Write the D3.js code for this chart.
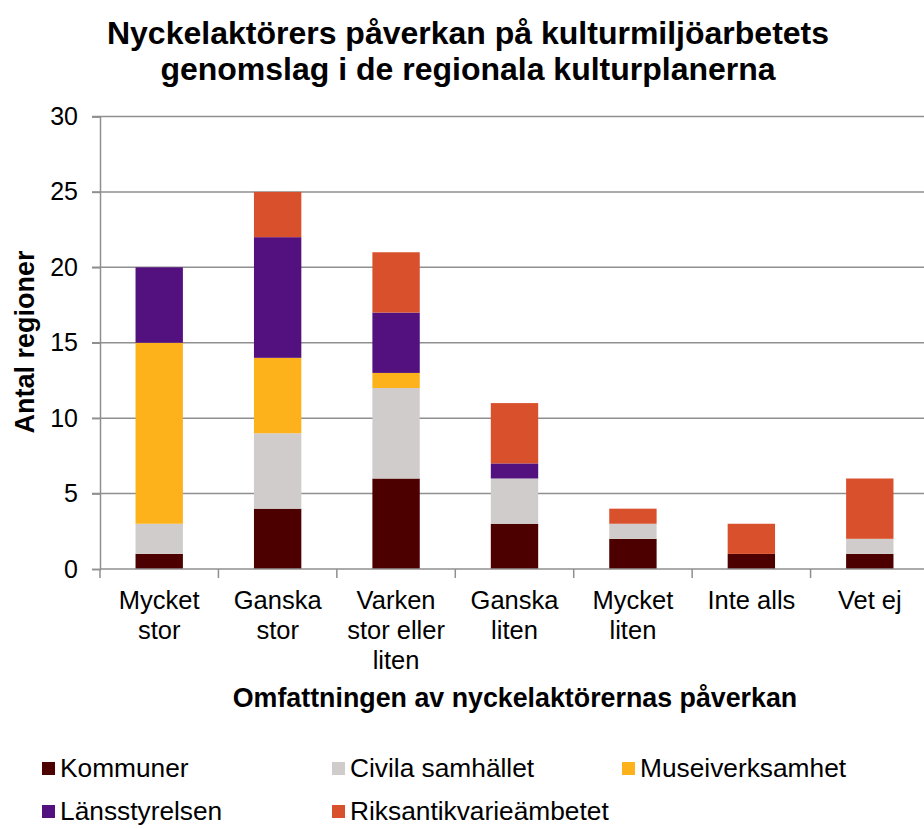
<!DOCTYPE html>
<html><head><meta charset="utf-8">
<script src="https://cdn.jsdelivr.net/npm/d3@7"></script>
<style>body{margin:0;background:#fff}svg{display:block;font-family:"Liberation Sans",Arial,sans-serif}</style>
</head><body><svg id="c" width="924" height="829"></svg>
<script>
const categories = [["Mycket","stor"],["Ganska","stor"],["Varken","stor eller","liten"],["Ganska","liten"],["Mycket","liten"],["Inte alls"],["Vet ej"]];
const seriesNames = ["Kommuner","Civila samhället","Museiverksamhet","Länsstyrelsen","Riksantikvarieämbetet"];
const colors = ["#4d0000","#d0cccb","#fdb21b","#52117f","#d9512c"];
const kommuner = [1,4,6,3,2,1,1];
const civila = [2,5,6,3,1,0,1];
const museum = [12,5,1,0,0,0,0];
const lans = [5,8,4,1,0,0,0];
const riks = [0,3,4,4,1,2,4];
const yTicks = [0,5,10,15,20,25,30];

const values = [kommuner,civila,museum,lans,riks];
const data = categories.map((c,i)=>{const o={key:i};seriesNames.forEach((s,j)=>o[s]=values[j][i]);return o;});
const stack = d3.stack().keys(seriesNames)(data);

const svg = d3.select("#c");
const L=100, R=929, T=116.5, B=569;
const x = d3.scaleBand().domain(d3.range(categories.length)).range([L,R]).paddingInner(0.6).paddingOuter(0.3);
const y = d3.scaleLinear().domain([0,30]).range([B,T]);

// gridlines
svg.append("g").selectAll("line").data(yTicks.filter(d=>d>0)).join("line")
  .attr("x1",L-8).attr("x2",R).attr("y1",d=>y(d)).attr("y2",d=>y(d))
  .attr("stroke","#8f8f8f").attr("stroke-width",1.5);

// bars
svg.append("g").selectAll("g").data(stack).join("g").attr("fill",(d,i)=>colors[i])
  .selectAll("rect").data(d=>d).join("rect")
  .attr("x",(d,i)=>x(i)).attr("width",x.bandwidth())
  .attr("y",d=>y(d[1])).attr("height",d=>y(d[0])-y(d[1]));

// y axis
const ya = svg.append("g").attr("transform",`translate(${L},0)`)
  .call(d3.axisLeft(y).tickValues(yTicks).tickSize(8).tickPadding(14));
ya.select(".domain").attr("stroke","#8f8f8f").attr("stroke-width",1.5);
ya.selectAll(".tick line").attr("stroke","#8f8f8f").attr("stroke-width",1.5);
ya.selectAll("text").attr("font-size",25).attr("fill","#000").attr("font-family","Liberation Sans, Arial, sans-serif");

// x axis
const step = x.step();
svg.append("line").attr("x1",L).attr("x2",R).attr("y1",B).attr("y2",B).attr("stroke","#8f8f8f").attr("stroke-width",1.5);
svg.append("g").selectAll("line").data(d3.range(categories.length+1)).join("line")
  .attr("x1",i=>L+i*step).attr("x2",i=>L+i*step).attr("y1",B).attr("y2",B+9)
  .attr("stroke","#8f8f8f").attr("stroke-width",1.5);
svg.append("g").selectAll("text").data(categories).join("text")
  .attr("text-anchor","middle").attr("font-size",25.5).attr("fill","#000")
  .attr("transform",(d,i)=>`translate(${x(i)+x.bandwidth()/2},609)`)
  .selectAll("tspan").data(d=>d).join("tspan").attr("x",0).attr("y",(d,j)=>j*30).text(d=>d);

// titles
svg.append("text").attr("text-anchor","middle").attr("font-weight","bold").attr("font-size",32)
  .selectAll("tspan").data(["Nyckelaktörers påverkan på kulturmiljöarbetets","genomslag i de regionala kulturplanerna"]).join("tspan")
  .attr("x",468).attr("y",(d,i)=>44+i*36).text(d=>d);
svg.append("text").attr("text-anchor","middle").attr("font-weight","bold").attr("font-size",27)
  .attr("transform","translate(34,342) rotate(-90)").text("Antal regioner");
svg.append("text").attr("x",515).attr("y",707).attr("text-anchor","middle").attr("font-weight","bold").attr("font-size",26.8)
  .text("Omfattningen av nyckelaktörernas påverkan");

// legend
const leg = svg.append("g").selectAll("g").data(seriesNames).join("g")
  .attr("transform",(d,i)=>`translate(${42+(i%3)*290},${762+Math.floor(i/3)*43})`);
leg.append("rect").attr("width",13).attr("height",13).attr("fill",(d,i)=>colors[i]);
leg.append("text").attr("x",18).attr("y",15).attr("font-size",26.3).attr("fill","#000").text(d=>d);
</script></body></html>
